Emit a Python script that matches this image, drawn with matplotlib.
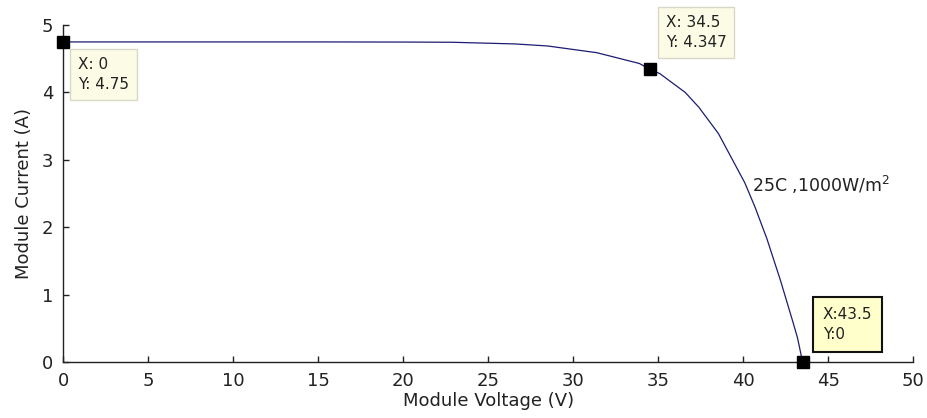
import matplotlib
matplotlib.use('Agg')
import matplotlib.pyplot as plt

# I-V curve
voltage = [0, 5, 10, 15, 20, 22.9, 26.6, 28.5, 31.4, 33.9, 34.5, 35.1, 36.6, 37.4,
           38.55, 39.4, 40.1, 40.7, 41.4, 42.2, 42.9, 43.2, 43.5]
current = [4.75, 4.75, 4.75, 4.75, 4.748, 4.745, 4.72, 4.69, 4.59, 4.43, 4.347, 4.28, 4.00, 3.78,
           3.39, 2.99, 2.66, 2.30, 1.83, 1.21, 0.62, 0.36, 0]

# data tips
tip_x = [0, 34.5, 43.5]
tip_y = [4.75, 4.347, 0]
tip_text = ['X: 0\nY: 4.75', 'X: 34.5\nY: 4.347', 'X:43.5\nY:0']

x_ticks = [0, 5, 10, 15, 20, 25, 30, 35, 40, 45, 50]
y_ticks = [0, 1, 2, 3, 4, 5]

fig = plt.figure(figsize=(9.27, 4.18), dpi=100)
ax = fig.add_axes([0.068, 0.134, 0.917, 0.806])

ax.plot(voltage, current, color='#1c1c72', lw=0.9, clip_on=False, zorder=3)
ax.plot(tip_x, tip_y, 's', color='black', ms=8, clip_on=False, zorder=4)

ax.set_xlim(0, 50)
ax.set_ylim(0, 5)
ax.set_xticks(x_ticks)
ax.set_yticks(y_ticks)
for side in ['top', 'right']:
    ax.spines[side].set_visible(False)
for side in ['left', 'bottom']:
    ax.spines[side].set_color('#222222')
    ax.spines[side].set_linewidth(1.0)
ax.tick_params(direction='in', length=4, width=1, color='#222222', labelsize=13, labelcolor='#222222')
ax.tick_params(axis='x', pad=7)
ax.tick_params(axis='y', pad=7)

ax.set_xlabel('Module Voltage (V)', fontsize=13, color='#222222', labelpad=2)
ax.set_ylabel('Module Current (A)', fontsize=13, color='#222222', labelpad=6)

ax.text(40.5, 2.62, '25C ,1000W/m$^2$', fontsize=12.5, color='#222222', va='center', ha='left')

# offsets (pixels) of the data tip text from the marker
offsets = [(15, -15), (16, 54), (20, 55)]
box_styles = [
    dict(boxstyle='square,pad=0.5', fc='#fbfbe6', ec='#d8d8c8', lw=1),
    dict(boxstyle='square,pad=0.5', fc='#fbfbe6', ec='#d8d8c8', lw=1),
    dict(boxstyle='square,pad=0.65', fc='#ffffcc', ec='#111111', lw=1.5),
]
for x, y, s, off, bs in zip(tip_x, tip_y, tip_text, offsets, box_styles):
    ax.annotate(s, xy=(x, y), xytext=off, textcoords='offset pixels',
                ha='left', va='top', fontsize=11, color='#222222',
                linespacing=1.45, bbox=bs, annotation_clip=False, zorder=5)

fig.savefig('out.png', dpi=100)
